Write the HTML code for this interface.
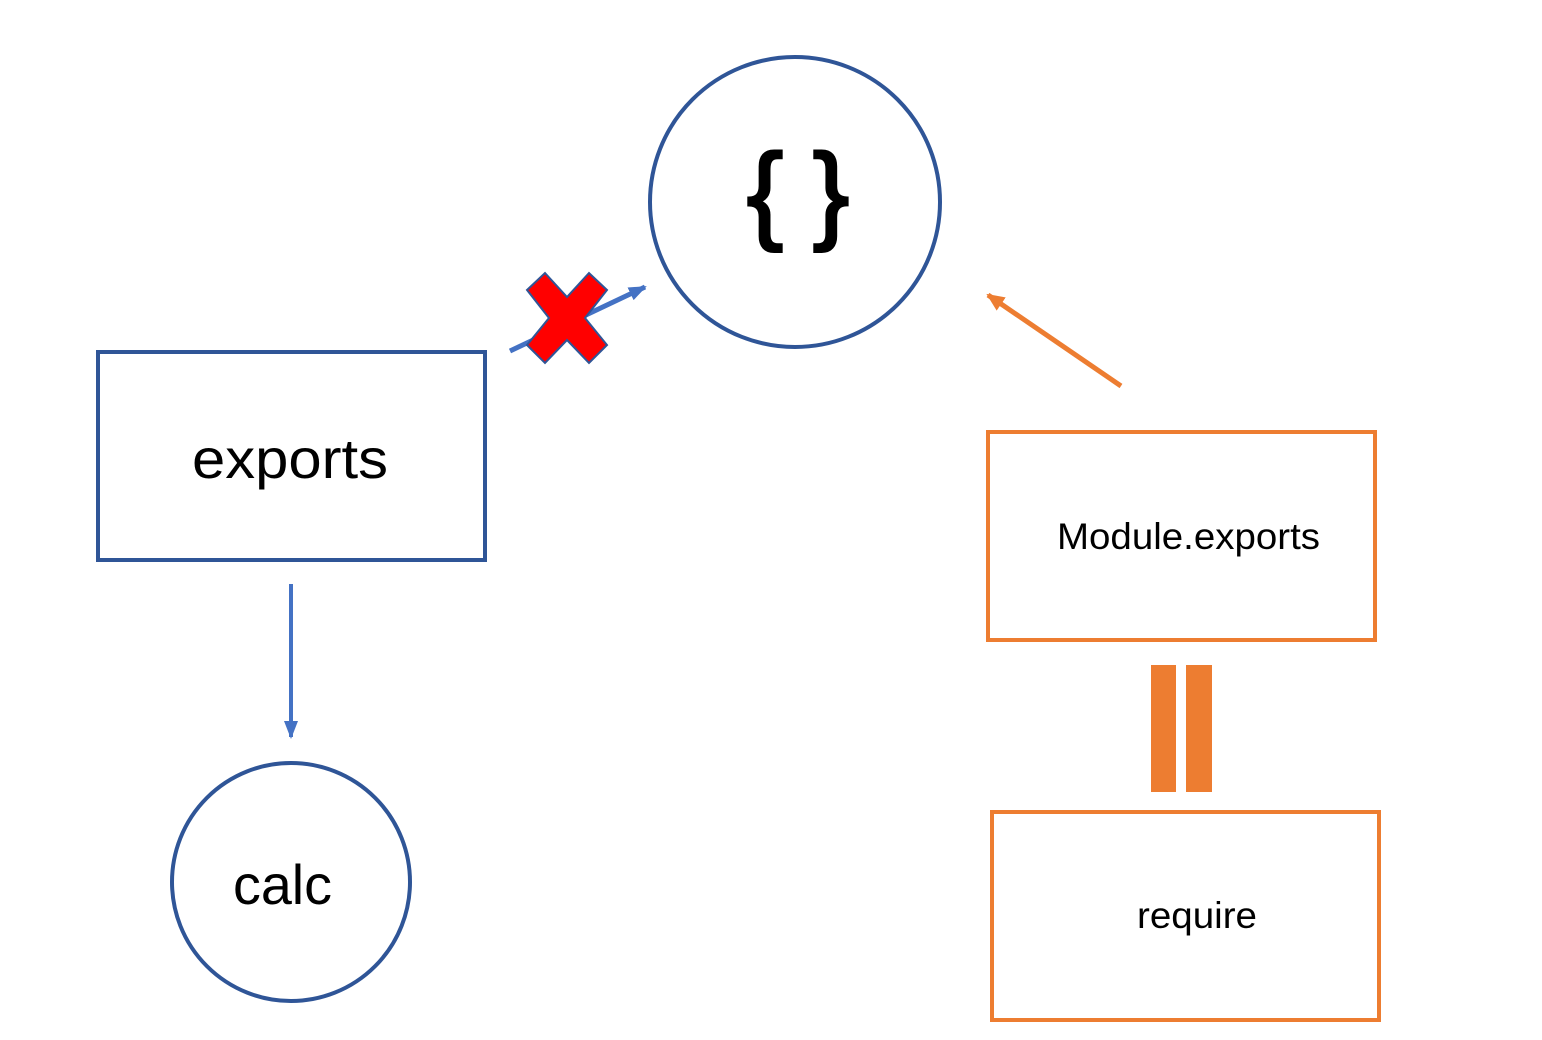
<!DOCTYPE html>
<html><head><meta charset="utf-8"><style>
html,body{margin:0;padding:0;background:#fff;width:1542px;height:1040px;overflow:hidden}
svg text{font-family:"Liberation Sans",sans-serif;fill:#000}
</style></head><body>
<svg width="1542" height="1040" viewBox="0 0 1542 1040" xmlns="http://www.w3.org/2000/svg">
<defs>
<marker id="ab" markerWidth="18" markerHeight="14" refX="16" refY="7" orient="auto" markerUnits="userSpaceOnUse"><path d="M0,0 L18,7 L0,14 z" fill="#4472c4"/></marker>
<marker id="ao" markerWidth="18" markerHeight="16" refX="16" refY="8" orient="auto" markerUnits="userSpaceOnUse"><path d="M0,0 L18,8 L0,16 z" fill="#ed7d31"/></marker>
</defs>
<circle cx="795" cy="202" r="145" fill="none" stroke="#2f5597" stroke-width="4"/>
<text x="765" y="229" font-size="108" text-anchor="middle" stroke="#000" stroke-width="3">{</text>
<text x="831" y="229" font-size="108" text-anchor="middle" stroke="#000" stroke-width="3">}</text>
<rect x="98" y="352" width="387" height="208" fill="none" stroke="#2f5597" stroke-width="4"/>
<text x="192" y="478" font-size="56" textLength="196" lengthAdjust="spacingAndGlyphs">exports</text>
<circle cx="291" cy="882" r="119" fill="none" stroke="#2f5597" stroke-width="4"/>
<text x="233" y="904" font-size="56" textLength="99" lengthAdjust="spacingAndGlyphs">calc</text>
<line x1="291" y1="584" x2="291" y2="737" stroke="#4472c4" stroke-width="4" marker-end="url(#ab)"/>
<line x1="510" y1="351" x2="645" y2="287" stroke="#4472c4" stroke-width="5" marker-end="url(#ab)"/>
<polygon points="527,290 545,273 567,297 589,273 607,290 585,318 607,345 589,363 567,340 545,363 527,345 549,318" fill="#ff0000" stroke="#2f5597" stroke-width="2"/>
<line x1="1121" y1="386" x2="988" y2="295" stroke="#ed7d31" stroke-width="5" marker-end="url(#ao)"/>
<rect x="988" y="432" width="387" height="208" fill="none" stroke="#ed7d31" stroke-width="4"/>
<text x="1057" y="549" font-size="37" textLength="263" lengthAdjust="spacingAndGlyphs">Module.exports</text>
<rect x="1151" y="665" width="25" height="127" fill="#ed7d31"/>
<rect x="1186" y="665" width="26" height="127" fill="#ed7d31"/>
<rect x="992" y="812" width="387" height="208" fill="none" stroke="#ed7d31" stroke-width="4"/>
<text x="1137" y="928" font-size="37" textLength="120" lengthAdjust="spacingAndGlyphs">require</text>
</svg>
</body></html>
